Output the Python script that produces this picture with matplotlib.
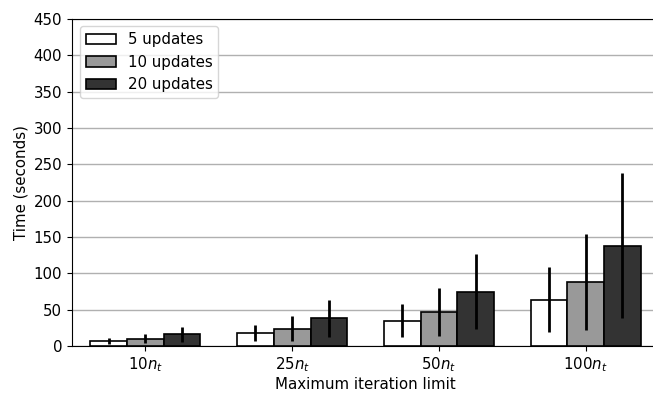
import numpy as np
import matplotlib
matplotlib.use("Agg")
from matplotlib import pyplot as plt

# iteration limits
labels = [r"$10n_t$", r"$25n_t$", r"$50n_t$", r"$100n_t$"]

# mean time and spread for each number of updates
t_5 = [7, 18, 35, 64]
e_5 = [4.5, 11.5, 22.5, 45]
t_10 = [10, 24, 47, 88]
e_10 = [6.5, 17, 33, 66]
t_20 = [16, 38, 75, 138]
e_20 = [10, 25.5, 51, 100]

plt.rcParams["font.size"] = 10.8

bar_width = 0.25
x = np.arange(len(labels))

fig = plt.figure(figsize=(6.53, 3.94), dpi=100)
ax = fig.add_axes([0.1103, 0.1218, 0.899, 0.83])

err_kw = dict(elinewidth=2, ecolor="black", capsize=0)
ax.bar(x - bar_width, t_5, bar_width, yerr=e_5, color="white", edgecolor="black",
       linewidth=1.2, error_kw=err_kw, label="5 updates", zorder=3)
ax.bar(x, t_10, bar_width, yerr=e_10, color="#999999", edgecolor="black",
       linewidth=1.2, error_kw=err_kw, label="10 updates", zorder=3)
ax.bar(x + bar_width, t_20, bar_width, yerr=e_20, color="#333333", edgecolor="black",
       linewidth=1.2, error_kw=err_kw, label="20 updates", zorder=3)

ax.set_xticks(x)
ax.set_xticklabels(labels)
ax.set_xlim(-0.5, 3.5)
ax.set_ylim(0, 450)
ax.set_yticks(range(0, 451, 50))
ax.yaxis.grid(True, color="#b0b0b0", linewidth=1, zorder=0)
ax.set_axisbelow(True)

ax.set_xlabel("Maximum iteration limit", labelpad=1.5)
ax.set_ylabel("Time (seconds)")
ax.legend(loc="upper left")

fig.savefig("out.png", dpi=100)
